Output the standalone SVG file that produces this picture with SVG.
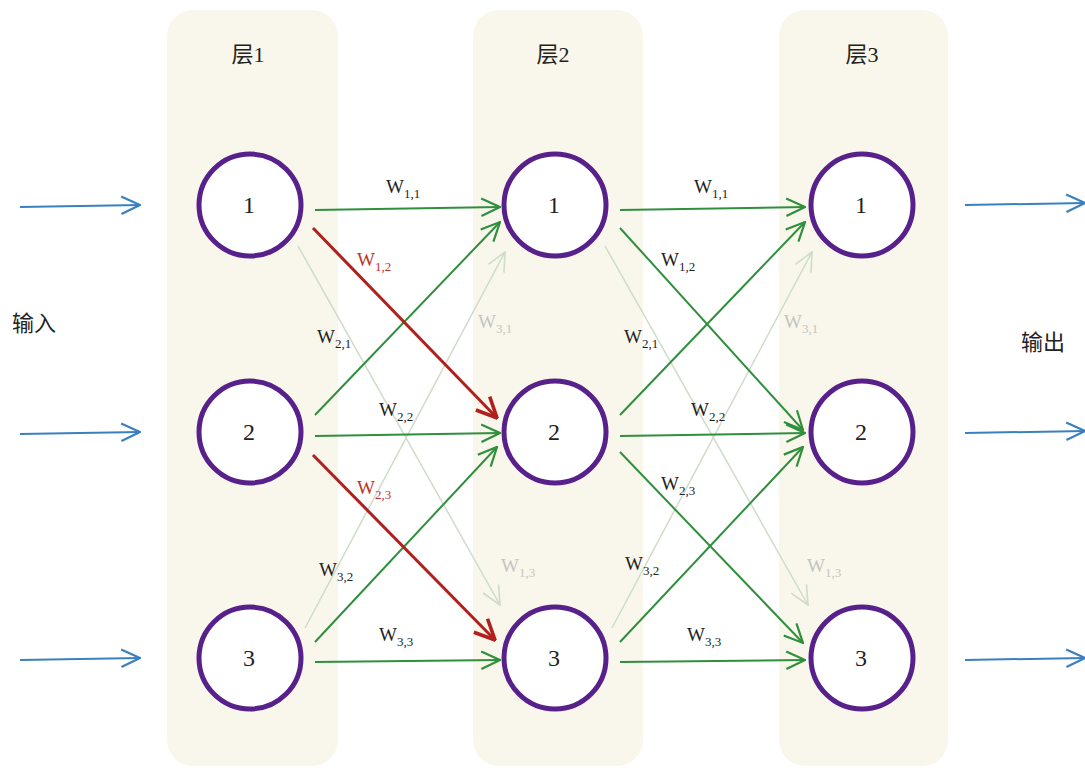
<svg xmlns="http://www.w3.org/2000/svg" width="1085" height="768" viewBox="0 0 1085 768">
<defs>
<style>
.panel{fill:#f9f7eb}
.node{fill:#ffffff;stroke:#57208a;stroke-width:5}
.num{font-family:"Liberation Serif",serif;font-size:24px;fill:#222;text-anchor:middle}
.hdr{font-family:"Liberation Serif","Noto Sans CJK SC",serif;font-size:22px;fill:#222;text-anchor:middle}
.cjk{font-family:"Noto Sans CJK SC",sans-serif;font-size:22px;fill:#222}
.g{stroke:#2f8f3c;stroke-width:2;fill:none;marker-end:url(#ag)}
.r{stroke:#b0201c;stroke-width:3;fill:none;marker-end:url(#ar)}
.f{stroke:#cfdcc8;stroke-width:1.5;fill:none;marker-end:url(#af)}
.b{stroke:#3a80c0;stroke-width:2;fill:none;marker-end:url(#ab)}
.w{font-family:"Liberation Serif",serif;font-size:19px;fill:#222}
.wr{font-family:"Liberation Serif",serif;font-size:19px;fill:#c0302a}
.wf{font-family:"Liberation Serif",serif;font-size:19px;fill:#c4c4c4}
.s{font-size:13px}
</style>
<marker id="ag" viewBox="0 0 20 20" refX="19" refY="10" markerWidth="22" markerHeight="22" markerUnits="userSpaceOnUse" orient="auto"><path d="M2,2 L19,10 L2,18" fill="none" stroke="#2f8f3c" stroke-width="2"/></marker>
<marker id="ar" viewBox="0 0 20 20" refX="19" refY="10" markerWidth="24" markerHeight="24" markerUnits="userSpaceOnUse" orient="auto"><path d="M2,2 L19,10 L2,18" fill="none" stroke="#b0201c" stroke-width="3"/></marker>
<marker id="af" viewBox="0 0 20 20" refX="19" refY="10" markerWidth="22" markerHeight="22" markerUnits="userSpaceOnUse" orient="auto"><path d="M2,2 L19,10 L2,18" fill="none" stroke="#cfdcc8" stroke-width="1.5"/></marker>
<marker id="ab" viewBox="0 0 20 20" refX="19" refY="10" markerWidth="22" markerHeight="22" markerUnits="userSpaceOnUse" orient="auto"><path d="M2,2 L19,10 L2,18" fill="none" stroke="#3a80c0" stroke-width="2"/></marker>
</defs>
<rect width="1085" height="768" fill="#ffffff"/>
<g id="panels">
<rect class="panel" x="167" y="10" width="171" height="756" rx="26"/>
<rect class="panel" x="473" y="10" width="170" height="756" rx="26"/>
<rect class="panel" x="779" y="10" width="169" height="756" rx="26"/>
<text class="hdr" x="248" y="62">层1</text>
<text class="hdr" x="553" y="62">层2</text>
<text class="hdr" x="862" y="62">层3</text>
</g>
<g id="connectors">
<line class="b" x1="20" y1="207" x2="140" y2="205"/>
<line class="b" x1="20" y1="434" x2="140" y2="432"/>
<line class="b" x1="20" y1="660" x2="140" y2="658"/>
<line class="b" x1="965" y1="205" x2="1085" y2="203"/>
<line class="b" x1="965" y1="433" x2="1085" y2="431"/>
<line class="b" x1="965" y1="660" x2="1085" y2="658"/>
<line class="f" x1="298" y1="246" x2="500" y2="605"/>
<line class="f" x1="305" y1="628" x2="505" y2="252"/>
<line class="g" x1="315" y1="210" x2="500" y2="207"/>
<line class="g" x1="315" y1="415" x2="500" y2="222"/>
<line class="g" x1="315" y1="436" x2="500" y2="433"/>
<line class="g" x1="315" y1="642" x2="497" y2="447"/>
<line class="g" x1="315" y1="662" x2="500" y2="660"/>
<line class="r" x1="313" y1="228" x2="497" y2="418"/>
<line class="r" x1="313" y1="455" x2="495" y2="640"/>
<line class="f" x1="605" y1="246" x2="808" y2="605"/>
<line class="f" x1="612" y1="628" x2="812" y2="252"/>
<line class="g" x1="620" y1="210" x2="805" y2="207"/>
<line class="g" x1="620" y1="228" x2="803" y2="430"/>
<line class="g" x1="620" y1="415" x2="805" y2="222"/>
<line class="g" x1="620" y1="436" x2="805" y2="433"/>
<line class="g" x1="620" y1="452" x2="803" y2="643"/>
<line class="g" x1="620" y1="642" x2="803" y2="447"/>
<line class="g" x1="620" y1="662" x2="805" y2="660"/>
</g>
<g id="labels">
<text class="w" x="386" y="193">W<tspan class="s" dy="5">1,1</tspan></text>
<text class="wr" x="357" y="266">W<tspan class="s" dy="5">1,2</tspan></text>
<text class="w" x="317" y="343">W<tspan class="s" dy="5">2,1</tspan></text>
<text class="wf" x="478" y="328">W<tspan class="s" dy="5">3,1</tspan></text>
<text class="w" x="379" y="416">W<tspan class="s" dy="5">2,2</tspan></text>
<text class="wr" x="357" y="494">W<tspan class="s" dy="5">2,3</tspan></text>
<text class="w" x="319" y="576">W<tspan class="s" dy="5">3,2</tspan></text>
<text class="wf" x="501" y="572">W<tspan class="s" dy="5">1,3</tspan></text>
<text class="w" x="379" y="641">W<tspan class="s" dy="5">3,3</tspan></text>
<text class="w" x="694" y="193">W<tspan class="s" dy="5">1,1</tspan></text>
<text class="w" x="661" y="266">W<tspan class="s" dy="5">1,2</tspan></text>
<text class="w" x="624" y="343">W<tspan class="s" dy="5">2,1</tspan></text>
<text class="wf" x="784" y="328">W<tspan class="s" dy="5">3,1</tspan></text>
<text class="w" x="691" y="416">W<tspan class="s" dy="5">2,2</tspan></text>
<text class="w" x="661" y="490">W<tspan class="s" dy="5">2,3</tspan></text>
<text class="w" x="625" y="570">W<tspan class="s" dy="5">3,2</tspan></text>
<text class="wf" x="807" y="572">W<tspan class="s" dy="5">1,3</tspan></text>
<text class="w" x="687" y="641">W<tspan class="s" dy="5">3,3</tspan></text>
<text class="cjk" x="12" y="331">输入</text>
<text class="cjk" x="1021" y="350">输出</text>
</g>
<g id="n1-1"><circle class="node" cx="250" cy="205" r="51"/><text class="num" x="249" y="213">1</text></g>
<g id="n1-2"><circle class="node" cx="250" cy="432" r="51"/><text class="num" x="249" y="440">2</text></g>
<g id="n1-3"><circle class="node" cx="250" cy="658" r="51"/><text class="num" x="249" y="666">3</text></g>
<g id="n2-1"><circle class="node" cx="555" cy="205" r="51"/><text class="num" x="554" y="213">1</text></g>
<g id="n2-2"><circle class="node" cx="555" cy="432" r="51"/><text class="num" x="554" y="440">2</text></g>
<g id="n2-3"><circle class="node" cx="555" cy="658" r="51"/><text class="num" x="554" y="666">3</text></g>
<g id="n3-1"><circle class="node" cx="862" cy="205" r="51"/><text class="num" x="861" y="213">1</text></g>
<g id="n3-2"><circle class="node" cx="862" cy="432" r="51"/><text class="num" x="861" y="440">2</text></g>
<g id="n3-3"><circle class="node" cx="862" cy="658" r="51"/><text class="num" x="861" y="666">3</text></g>
</svg>
